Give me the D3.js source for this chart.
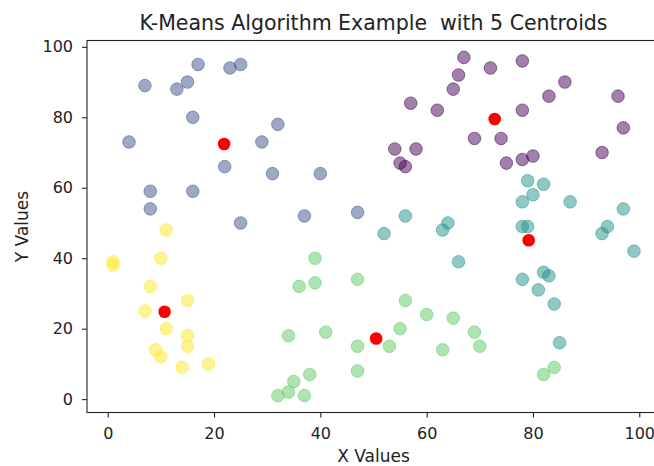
<!DOCTYPE html>
<html>
<head>
<meta charset="utf-8">
<script src="https://cdn.jsdelivr.net/npm/d3@7/dist/d3.min.js"></script>
<style>
  html, body { margin: 0; padding: 0; background: #fff; }
  svg { display: block; font-family: "DejaVu Sans", sans-serif; }
</style>
</head>
<body>
<svg id="chart" width="654" height="466"></svg>
<script>
// cluster points, one array per cluster (x, y)
const cluster0 = [[67,97],[66,92],[65,88],[57,84],[62,82],[54,71],[58,71],[55,67],[56,66],[72,94],[78,96],
  [86,90],[83,86],[96,86],[78,82],[97,77],[69,74],[74,74],[93,70],[75,67],[78,68],[80,69]];
const cluster1 = [[17,95],[23,94],[25,95],[7,89],[13,88],[15,90],[16,80],[32,78],[4,73],[29,73],[22,66],
  [31,64],[8,59],[16,59],[8,54],[25,50],[40,64],[37,52],[47,53]];
const cluster2 = [[56,52],[64,50],[63,48],[52,47],[66,39],[79,62],[82,61],[80,58],[78,56],[87,56],[97,54],
  [78,49],[79,49],[94,49],[93,47],[99,42],[82,36],[83,35],[78,34],[81,31],[84,27],[85,16]];
const cluster3 = [[39,40],[47,34],[39,33],[36,32],[56,28],[60,24],[65,23],[69,19],[70,15],[55,20],[41,19],
  [34,18],[47,15],[53,15],[63,14],[47,8],[38,7],[35,5],[34,2],[32,1],[37,1],[84,9],[82,7]];
const cluster4 = [[11,48],[1,39],[1,38],[10,40],[8,32],[15,28],[7,25],[11,20],[15,18],[15,15],[9,14],
  [10,12],[14,9],[19,10]];
const centroids = [[72.8,79.5],[21.9,72.4],[79.2,45.1],[50.5,17.2],[10.7,24.8]];
const clusterColors = ["#440154","#3b528b","#21918c","#5ec962","#fde725"];
const xTicks = [0,20,40,60,80,100];
const yTicks = [0,20,40,60,80,100];

const clusters = [cluster0, cluster1, cluster2, cluster3, cluster4];

const svg = d3.select("#chart");
const mLeft = 87, mRight = 660, mTop = 40.5, mBottom = 412.5;

// matplotlib style 5% margins around the data
const allPts = clusters.flat();
const xExt = d3.extent(allPts, d => d[0]), yExt = d3.extent(allPts, d => d[1]);
const xPad = (xExt[1]-xExt[0])*0.05, yPad = (yExt[1]-yExt[0])*0.05;
const x = d3.scaleLinear().domain([xExt[0]-xPad, xExt[1]+xPad]).range([mLeft, mRight]);
const y = d3.scaleLinear().domain([yExt[0]-yPad, yExt[1]+yPad]).range([mBottom, mTop]);

const plot = svg.append("g");
clusters.forEach((pts, i) => {
  plot.selectAll(null).data(pts).enter().append("circle")
    .attr("cx", d => x(d[0])).attr("cy", d => y(d[1])).attr("r", 6.3)
    .attr("fill", clusterColors[i]).attr("fill-opacity", 0.5)
    .attr("stroke", clusterColors[i]).attr("stroke-opacity", 0.5).attr("stroke-width", 1);
});
plot.selectAll(null).data(centroids).enter().append("circle")
  .attr("cx", d => x(d[0])).attr("cy", d => y(d[1])).attr("r", 6.3)
  .attr("fill", "red");

// axes
const xAxis = svg.append("g").attr("transform", `translate(0,${mBottom})`)
  .call(d3.axisBottom(x).tickValues(xTicks).tickSize(5).tickPadding(10).tickFormat(d3.format("d")));
const yAxis = svg.append("g").attr("transform", `translate(${mLeft},0)`)
  .call(d3.axisLeft(y).tickValues(yTicks).tickSize(5).tickPadding(9).tickFormat(d3.format("d")));
[xAxis, yAxis].forEach(a => {
  a.select(".domain").remove();
  a.selectAll("text").attr("font-size", 16).attr("font-family", "DejaVu Sans").attr("fill", "#222");
  a.selectAll("line").attr("stroke", "#222").attr("stroke-width", 1.1);
});

// spines
svg.append("rect").attr("x", mLeft).attr("y", mTop).attr("width", mRight-mLeft).attr("height", mBottom-mTop)
  .attr("fill", "none").attr("stroke", "#222").attr("stroke-width", 1.1);

svg.append("text").attr("x", (mLeft+mRight)/2).attr("y", 30).attr("text-anchor", "middle")
  .style("white-space", "pre")
  .attr("font-size", 20.5).attr("fill", "#222").text("K-Means Algorithm Example  with 5 Centroids");
svg.append("text").attr("x", (mLeft+mRight)/2).attr("y", 462).attr("text-anchor", "middle")
  .attr("font-size", 17).attr("fill", "#222").text("X Values");
svg.append("text").attr("transform", `translate(28,${(mTop+mBottom)/2}) rotate(-90)`).attr("text-anchor", "middle")
  .attr("font-size", 17).attr("fill", "#222").text("Y Values");
</script>
</body>
</html>
